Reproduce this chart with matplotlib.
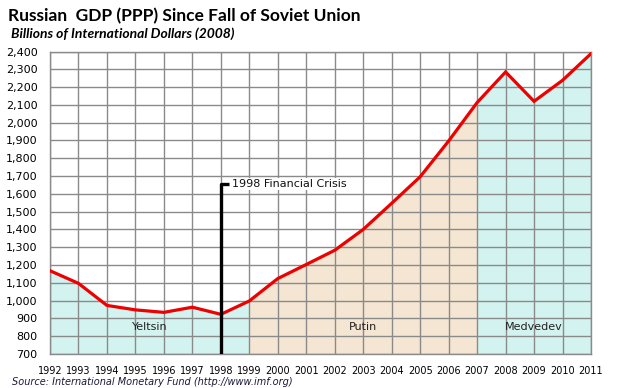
import matplotlib
matplotlib.use("Agg")
import matplotlib.pyplot as plt

# GDP (PPP), billions of international dollars
years = [1992, 1993, 1994, 1995, 1996, 1997, 1998, 1999, 2000, 2001,
         2002, 2003, 2004, 2005, 2006, 2007, 2008, 2009, 2010, 2011]
gdp = [1168, 1097, 973, 948, 934, 963, 923, 998, 1124, 1203,
       1283, 1400, 1547, 1696, 1897, 2113, 2285, 2120, 2238, 2388]

leaders = ["Yeltsin", "Putin", "Medvedev"]
leader_start = [1992, 1999, 2007]
leader_end = [1999, 2007, 2011]
leader_colors = ["#d3f3f1", "#f4e6d2", "#d3f3f1"]

crisis_year = 1998
crisis_label = "1998 Financial Crisis"

fig = plt.figure(figsize=(6.19, 3.88), dpi=100)
ax = fig.add_axes([50 / 619, 34 / 388, 541 / 619, 302.5 / 388])

for name, s, e, c in zip(leaders, leader_start, leader_end, leader_colors):
    xs = [y for y in years if s <= y <= e]
    ys = [g for y, g in zip(years, gdp) if s <= y <= e]
    ax.fill_between(xs, 700, ys, color=c, zorder=1, linewidth=0)
    ax.text((s + e) / 2, 850, name, ha="center", va="center",
            fontsize=8, color="#222222", zorder=4)

ax.plot(years, gdp, color="#ee0000", linewidth=2.3, zorder=5,
        solid_joinstyle="miter")

# crisis marker
ax.plot([crisis_year, crisis_year, crisis_year + 0.3], [700, 1655, 1655],
        color="black", linewidth=2.4, zorder=6, solid_capstyle="butt")
ax.text(crisis_year + 0.38, 1655, crisis_label, fontsize=8, va="center",
        ha="left", color="#111111", zorder=6,
        bbox=dict(facecolor="white", edgecolor="none", pad=0.5))

ax.set_xlim(1992, 2011)
ax.set_ylim(700, 2400)
ax.set_xticks(years)
ax.set_xticklabels([str(y) for y in years], fontsize=7)
yt = list(range(700, 2401, 100))
ax.set_yticks(yt)
ax.set_yticklabels([f"{v:,}" for v in yt], fontsize=8)
ax.tick_params(length=0)
ax.tick_params(axis="x", pad=9)
ax.tick_params(axis="y", pad=9)
ax.grid(True, color="#8a8a8a", linewidth=1.0, zorder=2)
ax.set_axisbelow(False)
for gl in ax.get_xgridlines() + ax.get_ygridlines():
    gl.set_zorder(2)
for sp in ax.spines.values():
    sp.set_color("#8a8a8a")
    sp.set_linewidth(1.0)

fig.text(8 / 619, 1 - 21 / 388, "Russian  GDP (PPP) Since Fall of Soviet Union",
         fontsize=12.5, fontweight="bold", family="Lato", va="baseline", ha="left")
fig.text(11 / 619, 1 - 38 / 388, "Billions of International Dollars (2008)",
         fontsize=10, fontweight="bold", style="italic", family="Lato",
         va="baseline", ha="left")
fig.text(12 / 619, 1 - 382 / 388, "Source: International Monetary Fund (http://www.imf.org)",
         fontsize=7, style="italic", color="#1a1a3a", va="center", ha="left")

fig.savefig("out.png", dpi=100)
